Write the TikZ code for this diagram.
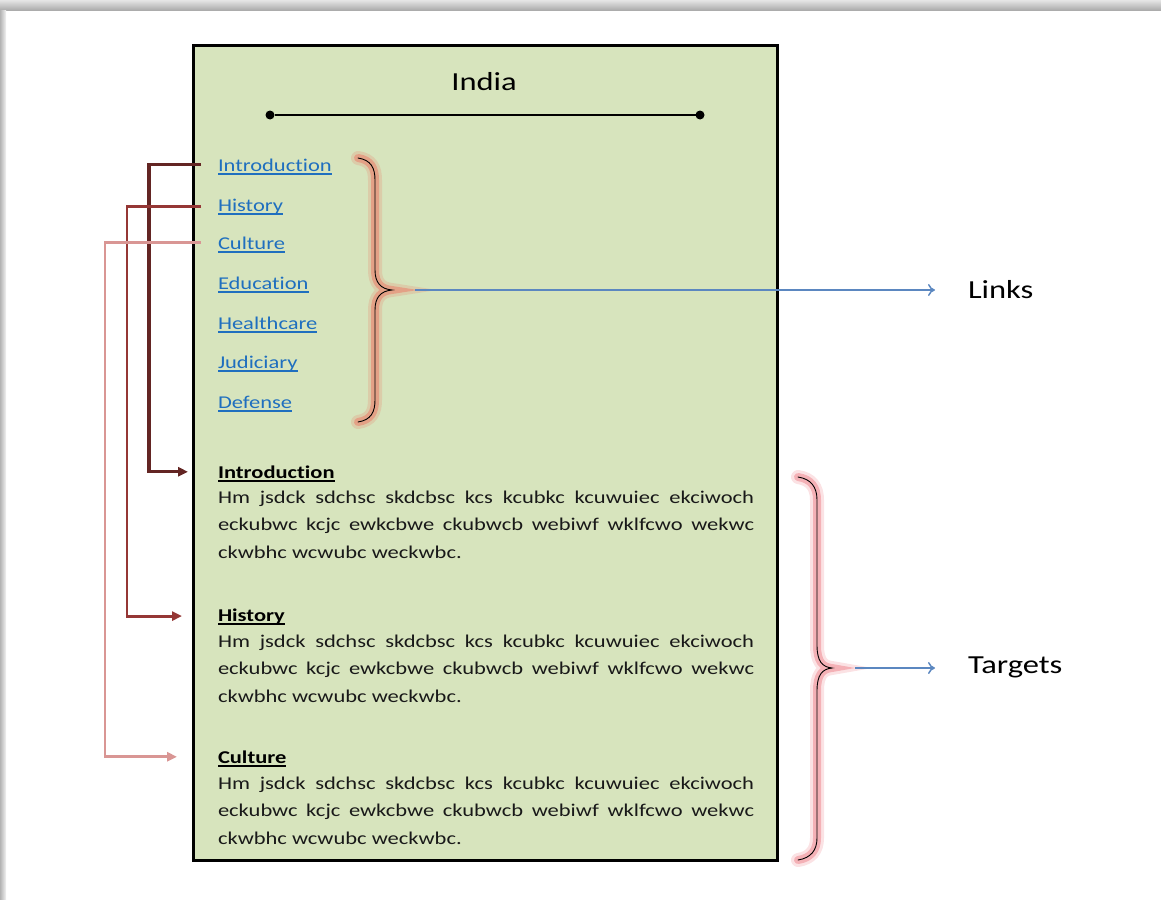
\documentclass[tikz,border=0pt]{standalone}
\usepackage{fontspec}
\setmainfont{Carlito}[FakeStretch=1.25, Ligatures=NoCommon]
\usetikzlibrary{arrows.meta}
\definecolor{pagegreen}{HTML}{D7E4BD}
\definecolor{linkblue}{HTML}{1F6FBF}
\definecolor{arrowblue}{HTML}{5B87C0}
\definecolor{cintro}{HTML}{632523}
\definecolor{chist}{HTML}{953735}
\definecolor{ccult}{HTML}{D99694}
\definecolor{glowa}{HTML}{E6977E}
\definecolor{glowb}{HTML}{F2A0A6}
\newcommand{\bodyfont}{\fontsize{18}{27.5}\selectfont}
\newcommand{\jline}[1]{\makebox[536pt][s]{#1}}
\begin{document}
\begin{tikzpicture}[x=1pt,y=-1pt,
  every node/.style={inner sep=0pt, outer sep=0pt},
  linktxt/.style={anchor=base west, font=\bodyfont, text=linkblue},
  linkul/.style={linkblue, line width=1.2pt},
  headtxt/.style={anchor=base west, font=\bodyfont\bfseries, text=black},
  bodytxt/.style={anchor=base west, font=\bodyfont, text=black!90},
  sidetxt/.style={anchor=base west, font=\fontsize{26}{30}\selectfont},
  conn/.style={line width=3.2pt, -{Triangle[length=10pt,width=9pt]}},
  bluearrow/.style={arrowblue, line width=1.5pt, -{To[length=7pt,width=12pt]}},
  bracebase/.style={black, line width=0.9pt, line cap=round},
  bracelinks/.style={bracebase, preaction={draw, glowa, line width=14pt, opacity=0.3, line cap=round}, preaction={draw, glowa, line width=8pt, opacity=0.8, line cap=round}},
  bracetargets/.style={bracebase, preaction={draw, glowb, line width=14pt, opacity=0.3, line cap=round}, preaction={draw, glowb, line width=8pt, opacity=0.75, line cap=round}}
]
\useasboundingbox (0,0) rectangle (1161,899);
% frame shadow
\shade[top color=gray!20, bottom color=gray!70] (0,0) rectangle (1161,11);
\shade[left color=gray!60, right color=gray!10] (0,11) rectangle (6,899);

% page
\node[draw, line width=3pt, fill=pagegreen, minimum width=584pt, minimum height=814pt] (page) at (485,453) {};
\node[font=\fontsize{26}{30}\selectfont] (title) at (484,82) {India};
\node[circle, fill=black, minimum size=9pt] (d1) at (270,115) {};
\node[circle, fill=black, minimum size=9pt] (d2) at (700,115) {};
\draw[line width=1.5pt] (d1) -- (d2);

% links
\foreach \n/\t/\y in {l1/Introduction/171, l2/History/211, l3/Culture/249, l4/Education/289, l5/Healthcare/329, l6/Judiciary/368, l7/Defense/408}{
  \node[linktxt] (\n) at (218,\y) {\t};
  \draw[linkul] ([yshift=-3pt]\n.base west) -- ([yshift=-3pt]\n.base east);
}

% targets
\foreach \h/\b/\t/\y/\yb in {h1/b1/Introduction/478/503, h2/b2/History/621/647, h3/b3/Culture/763/789}{
  \node[headtxt] (\h) at (218,\y) {\t};
  \draw[line width=1.2pt] ([yshift=-3pt]\h.base west) -- ([yshift=-3pt]\h.base east);
  \node[bodytxt] (\b) at (218,\yb) {\parbox[t]{536pt}{\bodyfont
    \jline{Hm jsdck sdchsc skdcbsc kcs kcubkc kcuwuiec ekciwoch}\\
    \jline{eckubwc kcjc ewkcbwe ckubwcb webiwf wklfcwo wekwc}\\
    ckwbhc wcwubc weckwbc.}};
}

% connectors
\draw[conn, cintro] ([xshift=-17pt]l1.west) -| ([xshift=-69pt]h1.west) -- ([xshift=-30pt]h1.west);
\draw[conn, chist, line width=2.8pt] ([xshift=-17pt]l2.west) -| ([xshift=-91pt]h2.west) -- ([xshift=-36pt]h2.west);
\draw[conn, ccult, line width=2.8pt] ([xshift=-17pt]l3.west) -| ([xshift=-113pt]h3.west) -- ([xshift=-41pt]h3.west);

% braces
\draw[bracelinks] (358,158) .. controls (371,160) and (375,168) .. (375,180) -- (375,270)
  .. controls (375,283) and (381,289) .. (392,290)
  .. controls (381,291) and (375,297) .. (375,310) -- (375,400)
  .. controls (375,412) and (371,420) .. (358,422);
\coordinate (tipa) at (392,290);
\draw[bracetargets] (798,477) .. controls (811,479) and (817,487) .. (817,500) -- (817,645)
  .. controls (817,661) and (822,667) .. (832,668)
  .. controls (822,669) and (817,675) .. (817,691) -- (817,838)
  .. controls (817,850) and (811,858) .. (798,860);
\coordinate (tipb) at (832,668);

% labels
\node[sidetxt] (links) at (968,298) {Links};
\node[sidetxt] (targets) at (968,673) {Targets};
\draw[bluearrow] ([xshift=23pt]tipa) -- ([xshift=-33pt, yshift=8pt]links.base west);
\draw[bluearrow] ([xshift=23pt]tipb) -- ([xshift=-33pt, yshift=5pt]targets.base west);
\end{tikzpicture}
\end{document}
